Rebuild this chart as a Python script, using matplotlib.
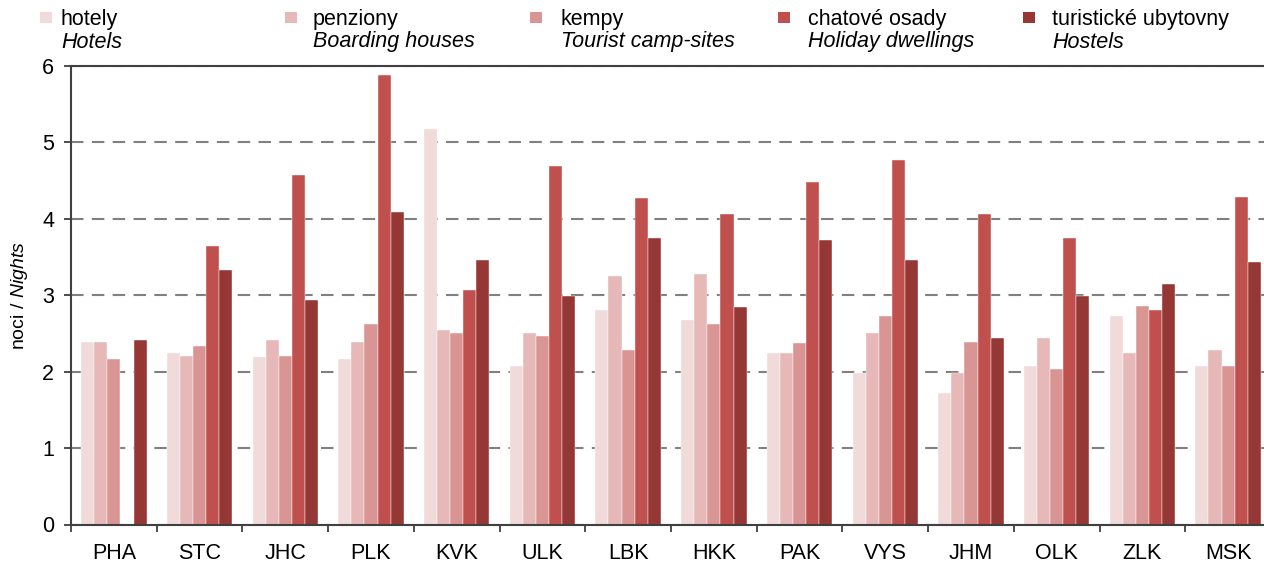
import numpy as np
import matplotlib
matplotlib.use("Agg")
import matplotlib.pyplot as plt
from matplotlib.patches import Rectangle

plt.rcParams['font.family'] = ['Liberation Sans', 'DejaVu Sans']
plt.rcParams['mathtext.fontset'] = 'custom'
plt.rcParams['mathtext.rm'] = 'Liberation Sans'
plt.rcParams['mathtext.it'] = 'Liberation Sans:italic'

categories = ["PHA", "STC", "JHC", "PLK", "KVK", "ULK", "LBK", "HKK",
              "PAK", "VYS", "JHM", "OLK", "ZLK", "MSK"]
hotely = [2.39, 2.24, 2.19, 2.16, 5.18, 2.08, 2.81, 2.68, 2.24, 1.98, 1.72, 2.08, 2.73, 2.08]
penziony = [2.39, 2.21, 2.42, 2.39, 2.55, 2.50, 3.25, 3.28, 2.24, 2.50, 1.98, 2.44, 2.24, 2.29]
kempy = [2.16, 2.34, 2.21, 2.63, 2.50, 2.47, 2.29, 2.63, 2.37, 2.73, 2.39, 2.03, 2.86, 2.08]
chatove = [np.nan, 3.64, 4.58, 5.88, 3.07, 4.69, 4.27, 4.06, 4.48, 4.77, 4.06, 3.75, 2.81, 4.29]
ubytovny = [2.42, 3.33, 2.94, 4.09, 3.46, 2.99, 3.75, 2.84, 3.72, 3.46, 2.44, 2.99, 3.15, 3.43]

series = [hotely, penziony, kempy, chatove, ubytovny]
labels_cz = ["hotely", "penziony", "kempy", "chatové osady", "turistické ubytovny"]
labels_en = ["Hotels", "Boarding houses", "Tourist camp-sites", "Holiday dwellings", "Hostels"]
colors = ["#F0DADA", "#E6B8B7", "#D99594", "#C0504D", "#953735"]

W, H = 1264, 564
fig = plt.figure(figsize=(W / 100, H / 100), dpi=100)
left, right, bottom, top = 71, 1271, 524.5, 66
ax = fig.add_axes([left / W, 1 - bottom / H, (right - left) / W, (bottom - top) / H])

n = len(categories)
x = np.arange(n)
bw = 0.153
for i, (vals, c) in enumerate(zip(series, colors)):
    v = np.array(vals, dtype=float)
    m = ~np.isnan(v)
    offs = (i - 2) * bw
    ax.bar(x[m] + offs, v[m], width=bw, color=c, edgecolor='white', linewidth=0.3, zorder=2)

ax.set_xlim(-0.5, n - 0.5)
ax.set_ylim(0, 6)
ax.set_yticks(range(0, 7))
ax.set_yticklabels([str(v) for v in range(0, 7)], fontsize=15.5)
ax.set_xticks(x)
ax.set_xticklabels(categories, fontsize=15.5)
ax.set_xticks(np.arange(-0.5, n + 0.5, 1), minor=True)
ax.tick_params(axis='x', which='major', length=0, pad=13)
ax.tick_params(axis='x', which='minor', length=5, width=1.3, color='#404040', direction='out')
ax.tick_params(axis='y', length=5, width=1.3, color='#404040', direction='out', pad=7)

ax.yaxis.grid(True, linestyle=(0, (6, 4)), color='#808080', linewidth=1.5, zorder=0)
ax.set_axisbelow(True)
for s in ['left', 'bottom', 'top']:
    ax.spines[s].set_color('#404040')
    ax.spines[s].set_linewidth(1.5)
    ax.spines[s].set_zorder(3)
ax.spines['right'].set_visible(False)

ax.set_ylabel("noci / $\\mathit{Nights}$", fontsize=14, labelpad=9)

# legend
mxs = [40, 285, 530, 778, 1023]
txs = [61, 313, 561, 808, 1052]
for xm, xt, c, lc, le in zip(mxs, txs, colors, labels_cz, labels_en):
    fig.patches.append(Rectangle((xm / W, 1 - 23 / H), 12 / W, 11 / H, transform=fig.transFigure,
                                 facecolor=c, edgecolor='none'))
    fig.text(xt / W, 1 - 19 / H, lc, fontsize=15.5, va='center', ha='left')
    fig.text(xt / W, 1 - 42 / H, le, fontsize=15.5, style='italic', va='center', ha='left')

fig.savefig("out.png", dpi=100)
